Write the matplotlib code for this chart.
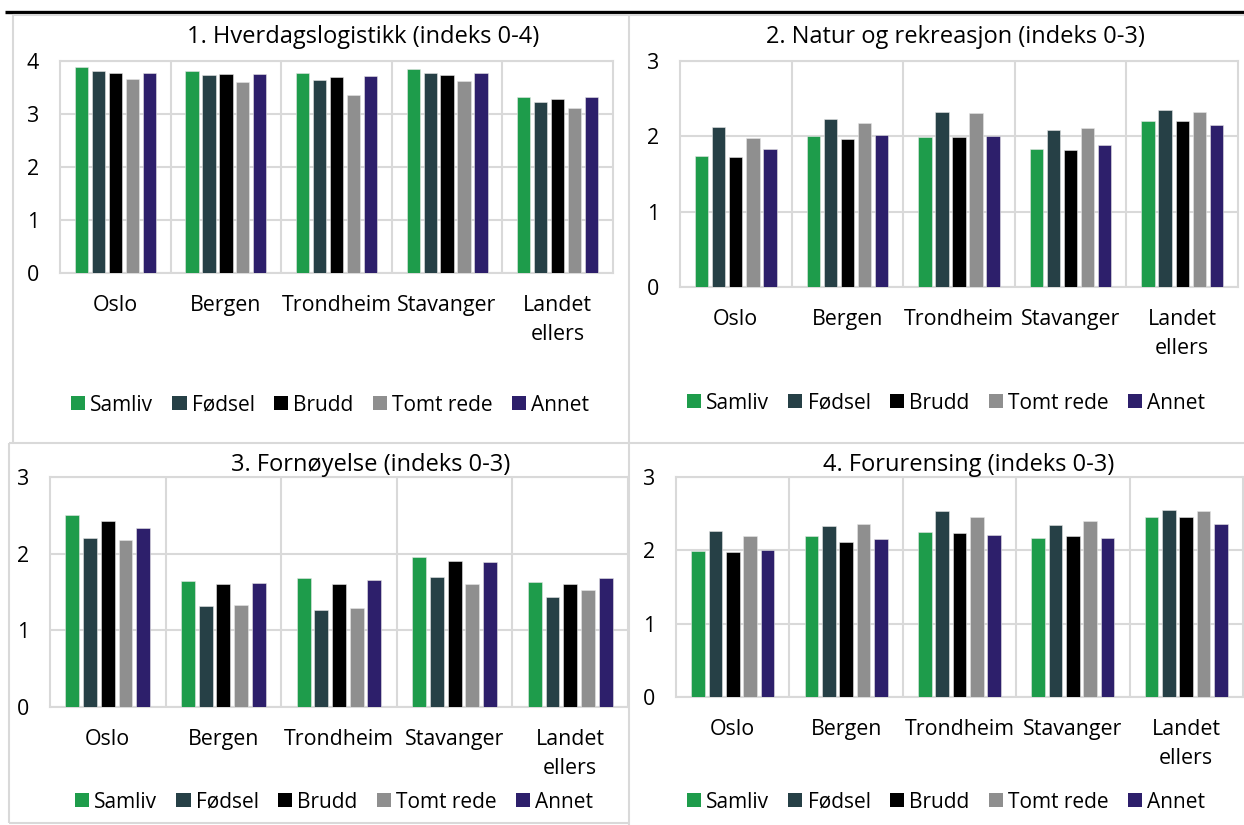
import matplotlib
matplotlib.use("Agg")
import matplotlib.pyplot as plt
from matplotlib.patches import Patch
from matplotlib.lines import Line2D
import numpy as np

plt.rcParams['font.family'] = ['Open Sans', 'DejaVu Sans']

categories = ["Oslo", "Bergen", "Trondheim", "Stavanger", "Landet\nellers"]
series = ["Samliv", "Fødsel", "Brudd", "Tomt rede", "Annet"]
colors = ["#1e9c4b", "#264046", "#000000", "#8f8f8f", "#2d1f6b"]

titles = ["1. Hverdagslogistikk (indeks 0-4)",
          "2. Natur og rekreasjon (indeks 0-3)",
          "3. Fornøyelse (indeks 0-3)",
          "4. Forurensing (indeks 0-3)"]

# values[series][category]
p1_samliv = [3.88, 3.82, 3.77, 3.84, 3.33]
p1_fodsel = [3.82, 3.74, 3.65, 3.77, 3.23]
p1_brudd = [3.78, 3.75, 3.70, 3.74, 3.29]
p1_tomt = [3.66, 3.60, 3.36, 3.63, 3.11]
p1_annet = [3.78, 3.75, 3.71, 3.77, 3.33]

p2_samliv = [1.74, 2.01, 1.99, 1.83, 2.21]
p2_fodsel = [2.12, 2.23, 2.32, 2.09, 2.35]
p2_brudd = [1.73, 1.96, 1.99, 1.82, 2.21]
p2_tomt = [1.98, 2.18, 2.31, 2.11, 2.32]
p2_annet = [1.83, 2.02, 2.00, 1.89, 2.15]

p3_samliv = [2.50, 1.64, 1.68, 1.96, 1.63]
p3_fodsel = [2.21, 1.32, 1.26, 1.70, 1.44]
p3_brudd = [2.42, 1.61, 1.60, 1.91, 1.60]
p3_tomt = [2.18, 1.33, 1.29, 1.60, 1.53]
p3_annet = [2.34, 1.62, 1.66, 1.89, 1.68]

p4_samliv = [1.99, 2.20, 2.25, 2.17, 2.45]
p4_fodsel = [2.27, 2.33, 2.53, 2.35, 2.55]
p4_brudd = [1.98, 2.11, 2.24, 2.20, 2.46]
p4_tomt = [2.19, 2.36, 2.46, 2.40, 2.54]
p4_annet = [2.01, 2.15, 2.21, 2.17, 2.36]

panels = [
    [p1_samliv, p1_fodsel, p1_brudd, p1_tomt, p1_annet],
    [p2_samliv, p2_fodsel, p2_brudd, p2_tomt, p2_annet],
    [p3_samliv, p3_fodsel, p3_brudd, p3_tomt, p3_annet],
    [p4_samliv, p4_fodsel, p4_brudd, p4_tomt, p4_annet],
]
ymax = [4, 3, 3, 3]

W, H = 1244, 825
fig = plt.figure(figsize=(W / 100, H / 100), dpi=100)

GRID = "#d9d9d9"
FS_TITLE = 17
FS_TICK = 15.4
FS_LEG = 15

def fx(x):
    return x / W

def fy(y):
    return 1 - y / H

def hline(x0, x1, y, color=GRID, lw=1.5):
    fig.add_artist(Line2D([fx(x0), fx(x1)], [fy(y), fy(y)], color=color, lw=lw,
                          transform=fig.transFigure, solid_capstyle='butt'))

def vline(x, y0, y1, color=GRID, lw=1.5):
    fig.add_artist(Line2D([fx(x), fx(x)], [fy(y0), fy(y1)], color=color, lw=lw,
                          transform=fig.transFigure, solid_capstyle='butt'))

# panel frames
hline(5, 1244, 12, color="black", lw=2.4)
hline(13, 1244, 15)
vline(13, 15, 443)
vline(629, 15, 825)
hline(9, 1244, 443)
vline(9, 443, 823)
hline(9, 629, 823)

# (left, right, top, bottom) of plot areas in px
boxes = [(60, 613, 61, 273), (680, 1238, 61, 287), (50, 628, 477, 707), (676, 1243, 477, 697)]
title_pos = [(363, 37), (955, 37), (371, 465), (969, 465)]
legend_pos = [(330, 405), (946, 403), (334, 802), (946, 802)]

width = 0.12
step = 0.153
x = np.arange(len(categories))

for k in range(4):
    l, r, t, b = boxes[k]
    ax = fig.add_axes([fx(l), fy(b), fx(r - l), (b - t) / H])
    for j, vals in enumerate(panels[k]):
        ax.bar(x + (j - 2) * step, vals, width=width, color=colors[j],
               edgecolor="#e6e6e6", linewidth=0.4, zorder=3)
    ax.set_xlim(-0.5, len(categories) - 0.5)
    ax.set_ylim(0, ymax[k])
    ax.set_yticks(range(ymax[k] + 1))
    ax.yaxis.grid(True, color=GRID, lw=1.5, zorder=0)
    for s in [0.5, 1.5, 2.5, 3.5]:
        ax.axvline(s, color=GRID, lw=1.5, zorder=0)
    for sp in ax.spines.values():
        sp.set_color(GRID)
        sp.set_linewidth(1.5)
    ax.set_xticks(x)
    ax.set_xticklabels(categories, fontsize=FS_TICK, linespacing=1.5)
    ax.tick_params(axis='x', length=0, pad=16)
    ax.tick_params(axis='y', length=0, pad=15, labelsize=FS_TICK)
    ax.set_facecolor("white")
    tx, ty = title_pos[k]
    fig.text(fx(tx), fy(ty), titles[k], fontsize=FS_TITLE, ha='center', va='center')
    handles = [Patch(facecolor=c, edgecolor='none') for c in colors]
    lx, ly = legend_pos[k]
    fig.legend(handles, series, loc='center', bbox_to_anchor=(fx(lx), fy(ly)),
               bbox_transform=fig.transFigure, ncol=5, frameon=False,
               fontsize=FS_LEG, handlelength=0.68, handleheight=0.68,
               handletextpad=0.25, columnspacing=0.92, borderpad=0, borderaxespad=0)

fig.savefig("out.png", dpi=100)
